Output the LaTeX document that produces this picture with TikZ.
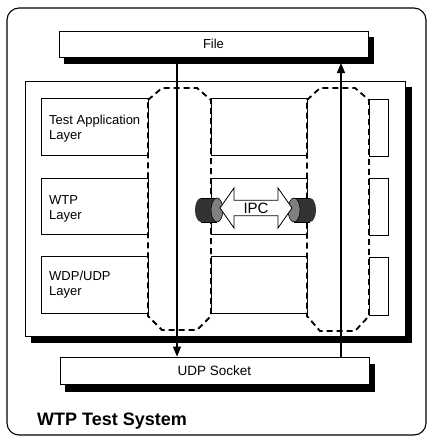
\documentclass[tikz,border=0pt]{standalone}
\usepackage{fontspec}
\setmainfont{Liberation Sans}
\usetikzlibrary{shapes.geometric,shapes.arrows,arrows.meta}
\definecolor{shadowc}{RGB}{0,0,0}
\begin{document}
\begin{tikzpicture}[x=1pt,y=-1pt,
  box/.style={draw=black, fill=white, line width=0.8pt, rectangle, inner sep=0pt},
  txt/.style={font=\fontsize{13}{15}\selectfont, inner sep=0pt, align=left, anchor=north west},
  dsh/.style={draw=black, line width=1.8pt, dash pattern=on 6pt off 4pt},
  conn/.style={draw=black, line width=1.3pt},
  tip/.style={-{Triangle[length=10pt,width=8pt]}},
  body/.style={fill=black!80},
  cend/.style={fill=black!50, draw=black, line width=0.6pt},
  shadowband/.style={fill=shadowc, draw=shadowc, line width=1pt}]
\useasboundingbox (0,0) rectangle (429,439);
% outer frame
\node[draw, line width=1.1pt, rounded corners=12pt, minimum width=419pt, minimum height=427pt, inner sep=0pt] (sys) at (216.5,221.5) {};
\node[font=\bfseries\fontsize{18}{20}\selectfont, anchor=base west, inner sep=0pt] (title) at (37,425) {WTP Test System};
% file
\node[box, minimum width=309pt, minimum height=26pt, font=\fontsize{13}{15}\selectfont] (file) at (213.5,44) {File};
% main box
\node[box, minimum width=380pt, minimum height=255pt] (main) at (215,208.5) {};
% udp socket
\node[box, minimum width=309pt, minimum height=27pt, font=\fontsize{13.5}{15}\selectfont] (udp) at (214.5,370.5) {UDP Socket};
% shadows: L-shaped bands on bottom and right
\path[shadowband] (64,57.5) -- (368.5,57.5) -- (368.5,37) -- (373,37) -- (373,63) -- (64,63) -- cycle;
\path[shadowband] (31,336.5) -- (405.5,336.5) -- (405.5,87) -- (411,87) -- (411,342) -- (31,342) -- cycle;
\path[shadowband] (65,384.5) -- (369.5,384.5) -- (369.5,364) -- (374,364) -- (374,391) -- (65,391) -- cycle;
% left column
\node[box, minimum width=107pt, minimum height=57pt] (tal) at (94.5,126.5) {};
\node[box, minimum width=107pt, minimum height=56pt] (wtp) at (94.5,206) {};
\node[box, minimum width=107pt, minimum height=57pt] (wdp) at (94.5,284.5) {};
\node[txt] (talt) at (49,115) {Test Application\\Layer};
\node[txt] (wtpt) at (49,195) {WTP\\Layer};
\node[txt] (wdpt) at (49,271) {WDP/UDP\\Layer};
% middle column
\node[box, minimum width=96pt, minimum height=57pt] (m1) at (259,126.5) {};
\node[box, minimum width=96pt, minimum height=56pt] (m2) at (259,206) {};
\node[box, minimum width=96pt, minimum height=57pt] (m3) at (259,284.5) {};
% right column
\node[box, minimum width=19pt, minimum height=57pt] (r1) at (378.5,127.5) {};
\node[box, minimum width=19pt, minimum height=57pt] (r2) at (378.5,206.5) {};
\node[box, minimum width=19pt, minimum height=58pt] (r3) at (378.5,286) {};
% dashed columns
\draw[dsh] (148,100) -- (162,88) -- (197,88) -- (211,100) -- (211,316) -- (197,330) -- (162,330) -- (148,316) -- cycle;
\draw[dsh] (307,100) -- (320,88) -- (355,88) -- (369,100) -- (369,316) -- (355,331) -- (320,331) -- (307,316) -- cycle;
% connectors
\coordinate (la) at (177,0);
\coordinate (ra) at (341,0);
\coordinate (fs) at (213.5,63);
\draw[conn, tip] (file.south -| la) -- (udp.north -| la);
\draw[conn, tip] (udp.north -| ra) -- (fs -| ra);
% cylinders
\fill[body] (201,198) rectangle (217,222);
\fill[body] (201,210) ellipse [x radius=6, y radius=12];
\draw[black, line width=0.6pt] (201,198) -- (217,198) (201,222) -- (217,222);
\filldraw[cend] (217,210) ellipse [x radius=6, y radius=12];
\fill[body] (294,198) rectangle (310,222);
\fill[body] (310,210) ellipse [x radius=6, y radius=12];
\draw[black, line width=0.6pt] (294,198) -- (310,198) (294,222) -- (310,222);
\filldraw[cend] (294,210) ellipse [x radius=6, y radius=12];
% IPC
\node[double arrow, draw=black, fill=white, line width=0.8pt, minimum height=72pt, minimum width=40pt,
  double arrow head extend=9pt, double arrow tip angle=110, inner sep=0pt,
  font=\fontsize{15}{15}\selectfont] (ipc) at (256,208) {IPC};
\end{tikzpicture}
\end{document}
